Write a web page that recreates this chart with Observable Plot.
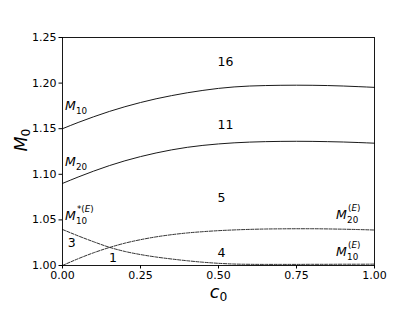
<!DOCTYPE html>
<html><head><meta charset="utf-8">
<script src="https://cdn.jsdelivr.net/npm/d3@7"></script>
<script src="https://cdn.jsdelivr.net/npm/@observablehq/plot@0.6"></script>
<style>
html,body{margin:0;padding:0;background:#fff;}
#chart svg{display:block;}
</style>
</head><body><div id="chart"></div>
<script>
// c0 sample positions
const c0 = [0, 0.05, 0.1, 0.15, 0.2, 0.25, 0.3, 0.35, 0.4, 0.45, 0.5, 0.55, 0.6, 0.65, 0.7, 0.75, 0.8, 0.85, 0.9, 0.95, 1.0];
// series values
const M10   = [1.150, 1.1568, 1.1631, 1.1689, 1.1741, 1.1787, 1.1828, 1.1863, 1.1894, 1.1920, 1.1942, 1.1958, 1.1968, 1.1973, 1.1976, 1.1977, 1.1976, 1.1973, 1.1968, 1.1961, 1.1953];
const M20   = [1.090, 1.097, 1.1035, 1.1095, 1.1148, 1.1194, 1.1234, 1.1268, 1.1296, 1.1317, 1.1333, 1.1345, 1.1353, 1.1358, 1.1361, 1.1362, 1.1361, 1.1358, 1.1354, 1.1348, 1.1341];
const M20E  = [1.000, 1.0074, 1.0140, 1.0197, 1.0245, 1.0283, 1.0314, 1.0338, 1.0357, 1.0371, 1.0382, 1.0390, 1.0396, 1.0400, 1.0402, 1.0403, 1.0403, 1.0401, 1.0398, 1.0394, 1.0389];
const M10sE = [1.0395, 1.0325, 1.0260, 1.0200, 1.0154, 1.0120, 1.0093, 1.0071, 1.0052, 1.0036, 1.0024, 1.0016, 1.0013, 1.0012, 1.0012, 1.0012, 1.0013, 1.0013, 1.0014, 1.0014, 1.0015];

// tick values
const xTicks = [0, 0.25, 0.5, 0.75, 1.0];
const yTicks = [1.00, 1.05, 1.10, 1.15, 1.20, 1.25];

// curve labels: M_sub^sup
const curveLabelX   = [0.008, 0.008, 0.008, 0.877, 0.877];
const curveLabelY   = [1.1705, 1.1096, 1.0501, 1.0512, 1.0102];
const curveLabelSub = ["10", "20", "10", "20", "10"];
const curveLabelSup = ["", "", "*(E)", "(E)", "(E)"];

// region numbers
const regionText = ["16", "11", "5", "4", "3", "1"];
const regionX    = [0.497, 0.497, 0.497, 0.497, 0.017, 0.149];
const regionY    = [1.2231, 1.1538, 1.0740, 1.0140, 1.0243, 1.0082];

const toRows = (name, vals) => vals.map((v, i) => ({series: name, c: c0[i], m: v}));
const solidRows = [...toRows("M10", M10), ...toRows("M20", M20)];
const dashedRows = [...toRows("M20E", M20E), ...toRows("M10sE", M10sE)];

const curveLabels = curveLabelX.map((x, i) => ({x, y: curveLabelY[i], sub: curveLabelSub[i], sup: curveLabelSup[i]}));
const regions = regionText.map((t, i) => ({t, x: regionX[i], y: regionY[i]}));

const chart = Plot.plot({
  width: 415,
  height: 312,
  marginLeft: 62,
  marginRight: 41,
  marginTop: 37,
  marginBottom: 47,
  style: {fontFamily: "DejaVu Sans", fontSize: "11px", background: "#fff", color: "black"},
  x: {domain: [0, 1]},
  y: {domain: [1.0, 1.25]},
  marks: [
    Plot.line(solidRows, {x: "c", y: "m", z: "series", stroke: "#1a1a1a", strokeWidth: 1, curve: "monotone-x"}),
    Plot.line(dashedRows, {x: "c", y: "m", z: "series", stroke: "#1a1a1a", strokeWidth: 0.9, strokeDasharray: "3.2,1.4", curve: "monotone-x"}),
    Plot.frame({stroke: "black", strokeWidth: 0.9}),
    Plot.axisX({ticks: xTicks, tickFormat: d3.format(".2f"), tickSize: 3.5, tickPadding: 2.5, label: null, stroke: "black"}),
    Plot.axisY({ticks: yTicks, tickFormat: d3.format(".2f"), tickSize: 3.5, tickPadding: 2.5, label: null, stroke: "black"}),
    Plot.text(regions, {x: "x", y: "y", text: "t", textAnchor: "start", fontSize: 12.5, fill: "black"}),
    Plot.text(curveLabels, {x: "x", y: "y", text: () => "M", textAnchor: "start", lineAnchor: "bottom", fontSize: 12.5, fontStyle: "italic", fill: "black"}),
    Plot.text(curveLabels, {x: "x", y: "y", text: "sub", textAnchor: "start", lineAnchor: "bottom", fontSize: 8.75, dx: 11, dy: 4, fill: "black"}),
    Plot.text(curveLabels.filter(d => d.sup), {x: "x", y: "y", text: "sup", textAnchor: "start", lineAnchor: "bottom", fontSize: 8.75, dx: 12, dy: -8.2, fill: "black"}),
    Plot.text(["c"], {frameAnchor: "bottom", text: d => d, dy: 32, lineAnchor: "bottom", fontSize: 17.5, fontStyle: "italic", fill: "black"}),
    Plot.text(["M"], {frameAnchor: "left", text: d => d, dx: -36, rotate: -90, lineAnchor: "bottom", fontSize: 17.5, fontStyle: "italic", fill: "black"})
  ]
});

document.getElementById("chart").appendChild(chart);

const NS = "http://www.w3.org/2000/svg";
chart.querySelectorAll("text").forEach(t => {
  const s = t.textContent;
  if (s.includes("(E)")) {
    // italic E inside superscripts, upright parentheses
    const i = s.indexOf("E");
    while (t.firstChild) t.removeChild(t.firstChild);
    t.appendChild(document.createTextNode(s.slice(0, i)));
    const e = document.createElementNS(NS, "tspan");
    e.setAttribute("font-style", "italic");
    e.textContent = "E";
    t.appendChild(e);
    t.appendChild(document.createTextNode(s.slice(i + 1)));
    return;
  }
  const fs = parseFloat(getComputedStyle(t).fontSize);
  if ((s === "c" || s === "M") && fs > 14) {
    const sp = document.createElementNS(NS, "tspan");
    sp.setAttribute("font-style", "normal");
    sp.setAttribute("font-size", "12.25");
    sp.setAttribute("dy", "3.8");
    sp.textContent = "0";
    t.appendChild(sp);
  }
});
</script>
</body></html>
